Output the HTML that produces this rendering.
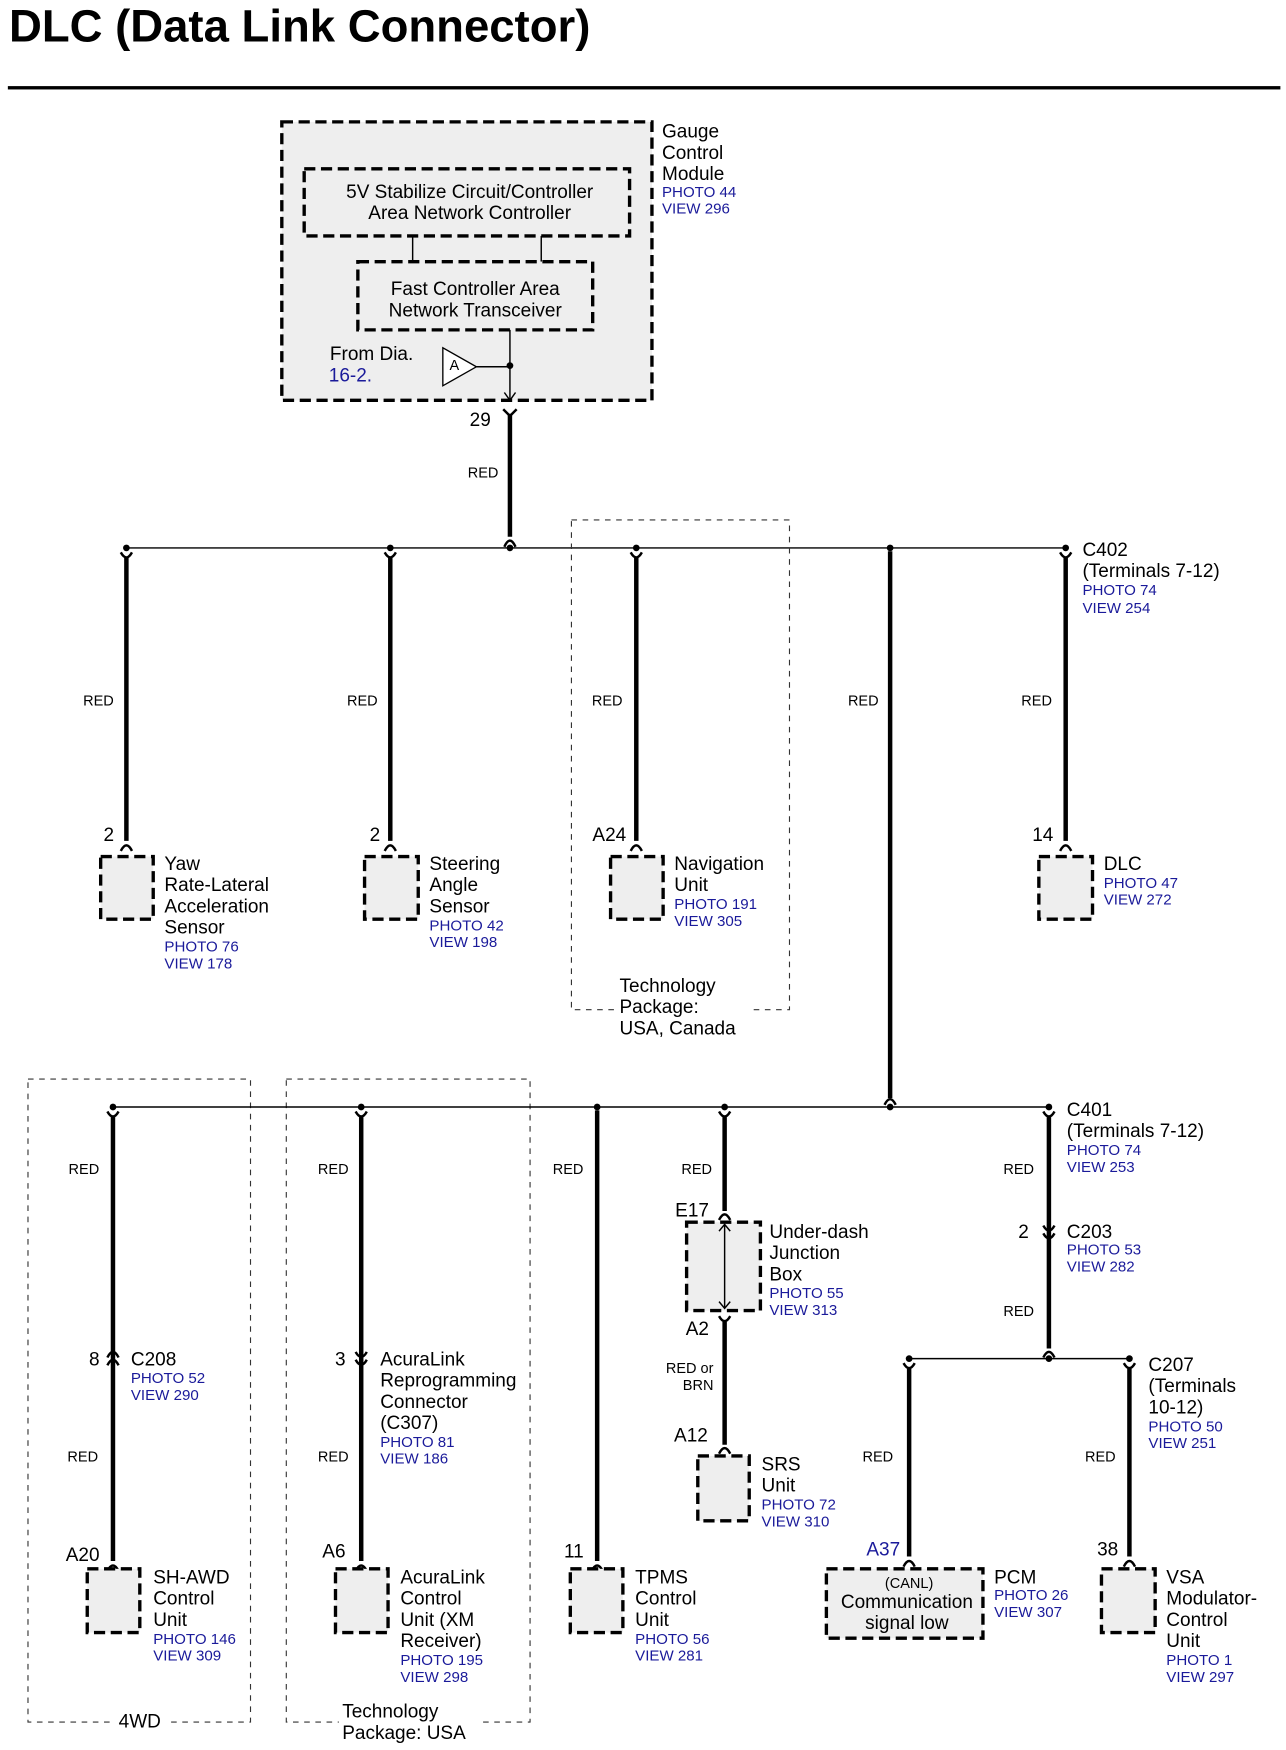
<!DOCTYPE html>
<html><head><meta charset="utf-8"><style>
html,body{margin:0;padding:0;background:#fff;}
svg{display:block;}
text{font-family:"Liberation Sans",Arial,sans-serif;fill:#000;}
.t{font-size:17px;}
.b{font-size:13.5px;fill:#1a1a9a;}
.r{font-size:13px;}
.w{stroke:#000;stroke-width:4;fill:none;}
.thin{stroke:#000;stroke-width:1.3;fill:none;}
.c{stroke:#000;stroke-width:2.2;fill:none;}
.box{fill:#eee;stroke:#000;stroke-width:3;stroke-dasharray:10,5;}
.grp{fill:none;stroke:#333;stroke-width:1;stroke-dasharray:5,5;}
</style></head><body>
<svg width="1286" height="1750" viewBox="0 0 1150 1565" xmlns="http://www.w3.org/2000/svg">
<text x="8" y="37" style="font-size:40.7px;font-weight:bold;">DLC (Data Link Connector)</text>
<rect x="7" y="77" width="1138" height="3" fill="#000"/>

<!-- Gauge control module -->
<rect class="box" x="252" y="109" width="331" height="249"/>
<rect class="box" x="272" y="151" width="291" height="60"/>
<text class="t" x="420" y="177" text-anchor="middle">5V Stabilize Circuit/Controller</text>
<text class="t" x="420" y="196" text-anchor="middle">Area Network Controller</text>
<line class="thin" x1="369" y1="211" x2="369" y2="234"/>
<line class="thin" x1="484" y1="211" x2="484" y2="234"/>
<rect class="box" x="320" y="234" width="210" height="61"/>
<text class="t" x="425" y="264" text-anchor="middle">Fast Controller Area</text>
<text class="t" x="425" y="283" text-anchor="middle">Network Transceiver</text>
<text class="t" x="295" y="322">From Dia.</text>
<text class="t" x="294" y="341" style="fill:#1a1a9a">16-2.</text>
<polygon points="396,311 396,345 426,328" fill="#fff" stroke="#000" stroke-width="1.2"/>
<text x="402" y="331" style="font-size:13px">A</text>
<line class="thin" x1="426" y1="328" x2="456" y2="328"/>
<circle cx="456" cy="327" r="3" fill="#000"/>
<line class="thin" x1="456" y1="295" x2="456" y2="358"/>
<path class="thin" d="M451,351 L456,358 L461,351"/>
<text class="t" x="592" y="123">Gauge</text>
<text class="t" x="592" y="142">Control</text>
<text class="t" x="592" y="161">Module</text>
<text class="b" x="592" y="176">PHOTO 44</text>
<text class="b" x="592" y="191">VIEW 296</text>

<text class="t" x="420" y="381">29</text>
<path class="c" d="M450,366 L456,372 L462,366"/>
<line class="w" x1="456" y1="370" x2="456" y2="480"/>
<path class="c" d="M451,489 Q456,478 461,489"/>
<text class="r" x="432" y="427" text-anchor="middle">RED</text>

<!-- bus 1 -->
<line class="thin" x1="113" y1="490" x2="953" y2="490"/>
<circle cx="113" cy="490" r="3" fill="#000"/>
<circle cx="349" cy="490" r="3" fill="#000"/>
<circle cx="456" cy="490" r="3" fill="#000"/>
<circle cx="569" cy="490" r="3" fill="#000"/>
<circle cx="796" cy="490" r="3" fill="#000"/>
<circle cx="953" cy="490" r="3" fill="#000"/>

<!-- branch wires 1 -->
<g>
<path class="c" d="M108,494 Q113,503 118,494"/><line class="w" x1="113" y1="499" x2="113" y2="752"/><path class="c" d="M108,761 Q113,751 118,761"/>
<path class="c" d="M344,494 Q349,503 354,494"/><line class="w" x1="349" y1="499" x2="349" y2="752"/><path class="c" d="M344,761 Q349,751 354,761"/>
<path class="c" d="M564,494 Q569,503 574,494"/><line class="w" x1="569" y1="499" x2="569" y2="752"/><path class="c" d="M564,761 Q569,751 574,761"/>
<path class="c" d="M948,494 Q953,503 958,494"/><line class="w" x1="953" y1="499" x2="953" y2="752"/><path class="c" d="M948,761 Q953,751 958,761"/>
<line class="w" x1="796" y1="493" x2="796" y2="982"/><path class="c" d="M791,988 Q796,978 801,988"/>
</g>
<text class="r" x="88" y="631" text-anchor="middle">RED</text>
<text class="r" x="324" y="631" text-anchor="middle">RED</text>
<text class="r" x="543" y="631" text-anchor="middle">RED</text>
<text class="r" x="772" y="631" text-anchor="middle">RED</text>
<text class="r" x="927" y="631" text-anchor="middle">RED</text>

<text class="t" x="102" y="752" text-anchor="end">2</text>
<text class="t" x="340" y="752" text-anchor="end">2</text>
<text class="t" x="560" y="752" text-anchor="end">A24</text>
<text class="t" x="942" y="752" text-anchor="end">14</text>

<rect class="box" x="90" y="766" width="47" height="56"/>
<text class="t" x="147" y="778">Yaw</text>
<text class="t" x="147" y="797">Rate-Lateral</text>
<text class="t" x="147" y="816">Acceleration</text>
<text class="t" x="147" y="835">Sensor</text>
<text class="b" x="147" y="851">PHOTO 76</text>
<text class="b" x="147" y="866">VIEW 178</text>

<rect class="box" x="326" y="766" width="48" height="56"/>
<text class="t" x="384" y="778">Steering</text>
<text class="t" x="384" y="797">Angle</text>
<text class="t" x="384" y="816">Sensor</text>
<text class="b" x="384" y="832">PHOTO 42</text>
<text class="b" x="384" y="847">VIEW 198</text>

<rect class="grp" x="511" y="465" width="195" height="438"/>
<rect class="box" x="546" y="766" width="47" height="56"/>
<text class="t" x="603" y="778">Navigation</text>
<text class="t" x="603" y="797">Unit</text>
<text class="b" x="603" y="813">PHOTO 191</text>
<text class="b" x="603" y="828">VIEW 305</text>
<rect x="550" y="872" width="120" height="60" fill="#fff"/>
<text class="t" x="554" y="887">Technology</text>
<text class="t" x="554" y="906">Package:</text>
<text class="t" x="554" y="925">USA, Canada</text>

<rect class="box" x="929" y="766" width="48" height="56"/>
<text class="t" x="987" y="778">DLC</text>
<text class="b" x="987" y="794">PHOTO 47</text>
<text class="b" x="987" y="809">VIEW 272</text>

<text class="t" x="968" y="497">C402</text>
<text class="t" x="968" y="516">(Terminals 7-12)</text>
<text class="b" x="968" y="532">PHOTO 74</text>
<text class="b" x="968" y="548">VIEW 254</text>

<!-- bus 2 -->
<rect class="grp" x="25" y="965" width="199" height="575"/>
<rect class="grp" x="256" y="965" width="218" height="575"/>
<line class="thin" x1="101" y1="990" x2="938" y2="990"/>
<circle cx="101" cy="990" r="3" fill="#000"/>
<circle cx="323" cy="990" r="3" fill="#000"/>
<circle cx="534" cy="990" r="3" fill="#000"/>
<circle cx="648" cy="990" r="3" fill="#000"/>
<circle cx="796" cy="990" r="3" fill="#000"/>
<circle cx="938" cy="990" r="3" fill="#000"/>

<!-- 101 -->
<path class="c" d="M96,994 Q101,1003 106,994"/><line class="w" x1="101" y1="999" x2="101" y2="1396"/><path class="c" d="M96,1405 Q101,1395 106,1405"/>
<path class="c" d="M96,1214 Q101,1204 106,1214"/><path class="c" d="M96,1221 Q101,1211 106,1221"/>
<text class="t" x="89" y="1221" text-anchor="end">8</text>
<text class="t" x="117" y="1221">C208</text>
<text class="b" x="117" y="1237">PHOTO 52</text>
<text class="b" x="117" y="1252">VIEW 290</text>
<text class="r" x="75" y="1050" text-anchor="middle">RED</text>
<text class="r" x="74" y="1307" text-anchor="middle">RED</text>
<text class="t" x="89" y="1396" text-anchor="end">A20</text>
<rect class="box" x="78" y="1403" width="47" height="57"/>
<text class="t" x="137" y="1416">SH-AWD</text>
<text class="t" x="137" y="1435">Control</text>
<text class="t" x="137" y="1454">Unit</text>
<text class="b" x="137" y="1470">PHOTO 146</text>
<text class="b" x="137" y="1485">VIEW 309</text>
<rect x="100" y="1535" width="50" height="14" fill="#fff"/>
<text class="t" x="125" y="1545" text-anchor="middle">4WD</text>

<!-- 323 -->
<path class="c" d="M318,994 Q323,1003 328,994"/><line class="w" x1="323" y1="999" x2="323" y2="1396"/><path class="c" d="M318,1405 Q323,1395 328,1405"/>
<path class="c" d="M318,1209 Q323,1218 328,1209"/><path class="c" d="M318,1216 Q323,1225 328,1216"/>
<text class="t" x="309" y="1221" text-anchor="end">3</text>
<text class="t" x="340" y="1221">AcuraLink</text>
<text class="t" x="340" y="1240">Reprogramming</text>
<text class="t" x="340" y="1259">Connector</text>
<text class="t" x="340" y="1278">(C307)</text>
<text class="b" x="340" y="1294">PHOTO 81</text>
<text class="b" x="340" y="1309">VIEW 186</text>
<text class="r" x="298" y="1050" text-anchor="middle">RED</text>
<text class="r" x="298" y="1307" text-anchor="middle">RED</text>
<text class="t" x="309" y="1393" text-anchor="end">A6</text>
<rect class="box" x="300" y="1403" width="47" height="57"/>
<text class="t" x="358" y="1416">AcuraLink</text>
<text class="t" x="358" y="1435">Control</text>
<text class="t" x="358" y="1454">Unit (XM</text>
<text class="t" x="358" y="1473">Receiver)</text>
<text class="b" x="358" y="1489">PHOTO 195</text>
<text class="b" x="358" y="1504">VIEW 298</text>
<rect x="303" y="1522" width="125" height="40" fill="#fff"/>
<text class="t" x="306" y="1536">Technology</text>
<text class="t" x="306" y="1555">Package: USA</text>

<!-- 534 -->
<line class="w" x1="534" y1="993" x2="534" y2="1396"/><path class="c" d="M529,1405 Q534,1395 539,1405"/>
<text class="r" x="508" y="1050" text-anchor="middle">RED</text>
<text class="t" x="522" y="1393" text-anchor="end">11</text>
<rect class="box" x="510" y="1403" width="47" height="57"/>
<text class="t" x="568" y="1416">TPMS</text>
<text class="t" x="568" y="1435">Control</text>
<text class="t" x="568" y="1454">Unit</text>
<text class="b" x="568" y="1470">PHOTO 56</text>
<text class="b" x="568" y="1485">VIEW 281</text>

<!-- 648 -->
<path class="c" d="M643,994 Q648,1003 653,994"/><line class="w" x1="648" y1="999" x2="648" y2="1083"/><path class="c" d="M643,1091 Q648,1081 653,1091"/>
<text class="r" x="623" y="1050" text-anchor="middle">RED</text>
<text class="t" x="634" y="1088" text-anchor="end">E17</text>
<rect class="box" x="614" y="1093" width="66" height="79"/>
<line class="thin" x1="648" y1="1095" x2="648" y2="1170"/>
<path class="thin" d="M643,1101 L648,1095 L653,1101 M643,1164 L648,1170 L653,1164"/>
<text class="t" x="688" y="1107">Under-dash</text>
<text class="t" x="688" y="1126">Junction</text>
<text class="t" x="688" y="1145">Box</text>
<text class="b" x="688" y="1161">PHOTO 55</text>
<text class="b" x="688" y="1176">VIEW 313</text>
<path class="c" d="M643,1177 Q648,1186 653,1177"/><line class="w" x1="648" y1="1182" x2="648" y2="1292"/><path class="c" d="M643,1300 Q648,1290 653,1300"/>
<text class="t" x="634" y="1194" text-anchor="end">A2</text>
<text class="r" x="638" y="1228" text-anchor="end">RED or</text>
<text class="r" x="638" y="1243" text-anchor="end">BRN</text>
<text class="t" x="633" y="1289" text-anchor="end">A12</text>
<rect class="box" x="624" y="1302" width="46" height="58"/>
<text class="t" x="681" y="1315">SRS</text>
<text class="t" x="681" y="1334">Unit</text>
<text class="b" x="681" y="1350">PHOTO 72</text>
<text class="b" x="681" y="1365">VIEW 310</text>

<!-- 938 -->
<path class="c" d="M933,994 Q938,1003 943,994"/><line class="w" x1="938" y1="999" x2="938" y2="1206"/><path class="c" d="M933,1214 Q938,1204 943,1214"/>
<path class="c" d="M933,1096 Q938,1105 943,1096"/><path class="c" d="M933,1103 Q938,1112 943,1103"/>
<text class="t" x="954" y="998">C401</text>
<text class="t" x="954" y="1017">(Terminals 7-12)</text>
<text class="b" x="954" y="1033">PHOTO 74</text>
<text class="b" x="954" y="1048">VIEW 253</text>
<text class="r" x="911" y="1050" text-anchor="middle">RED</text>
<text class="t" x="920" y="1107" text-anchor="end">2</text>
<text class="t" x="954" y="1107">C203</text>
<text class="b" x="954" y="1122">PHOTO 53</text>
<text class="b" x="954" y="1137">VIEW 282</text>
<text class="r" x="911" y="1177" text-anchor="middle">RED</text>

<!-- bus 3 -->
<line class="thin" x1="813" y1="1215" x2="1010" y2="1215"/>
<circle cx="813" cy="1215" r="3" fill="#000"/>
<circle cx="938" cy="1215" r="3" fill="#000"/>
<circle cx="1010" cy="1215" r="3" fill="#000"/>
<path class="c" d="M808,1219 Q813,1228 818,1219"/><line class="w" x1="813" y1="1224" x2="813" y2="1392"/><path class="c" d="M808,1401 Q813,1391 818,1401"/>
<path class="c" d="M1005,1219 Q1010,1228 1015,1219"/><line class="w" x1="1010" y1="1224" x2="1010" y2="1392"/><path class="c" d="M1005,1401 Q1010,1391 1015,1401"/>
<text class="r" x="785" y="1307" text-anchor="middle">RED</text>
<text class="r" x="984" y="1307" text-anchor="middle">RED</text>
<text class="t" x="805" y="1391" text-anchor="end" style="fill:#1a1a9a">A37</text>
<rect class="box" x="739" y="1403" width="140" height="62"/>
<text x="813" y="1420" text-anchor="middle" style="font-size:13px">(CANL)</text>
<text class="t" x="811" y="1438" text-anchor="middle">Communication</text>
<text class="t" x="811" y="1457" text-anchor="middle">signal low</text>
<text class="t" x="889" y="1416">PCM</text>
<text class="b" x="889" y="1431">PHOTO 26</text>
<text class="b" x="889" y="1446">VIEW 307</text>
<text class="t" x="1027" y="1226">C207</text>
<text class="t" x="1027" y="1245">(Terminals</text>
<text class="t" x="1027" y="1264">10-12)</text>
<text class="b" x="1027" y="1280">PHOTO 50</text>
<text class="b" x="1027" y="1295">VIEW 251</text>
<text class="t" x="1000" y="1391" text-anchor="end">38</text>
<rect class="box" x="985" y="1403" width="48" height="57"/>
<text class="t" x="1043" y="1416">VSA</text>
<text class="t" x="1043" y="1435">Modulator-</text>
<text class="t" x="1043" y="1454">Control</text>
<text class="t" x="1043" y="1473">Unit</text>
<text class="b" x="1043" y="1489">PHOTO 1</text>
<text class="b" x="1043" y="1504">VIEW 297</text>
</svg>
</body></html>
